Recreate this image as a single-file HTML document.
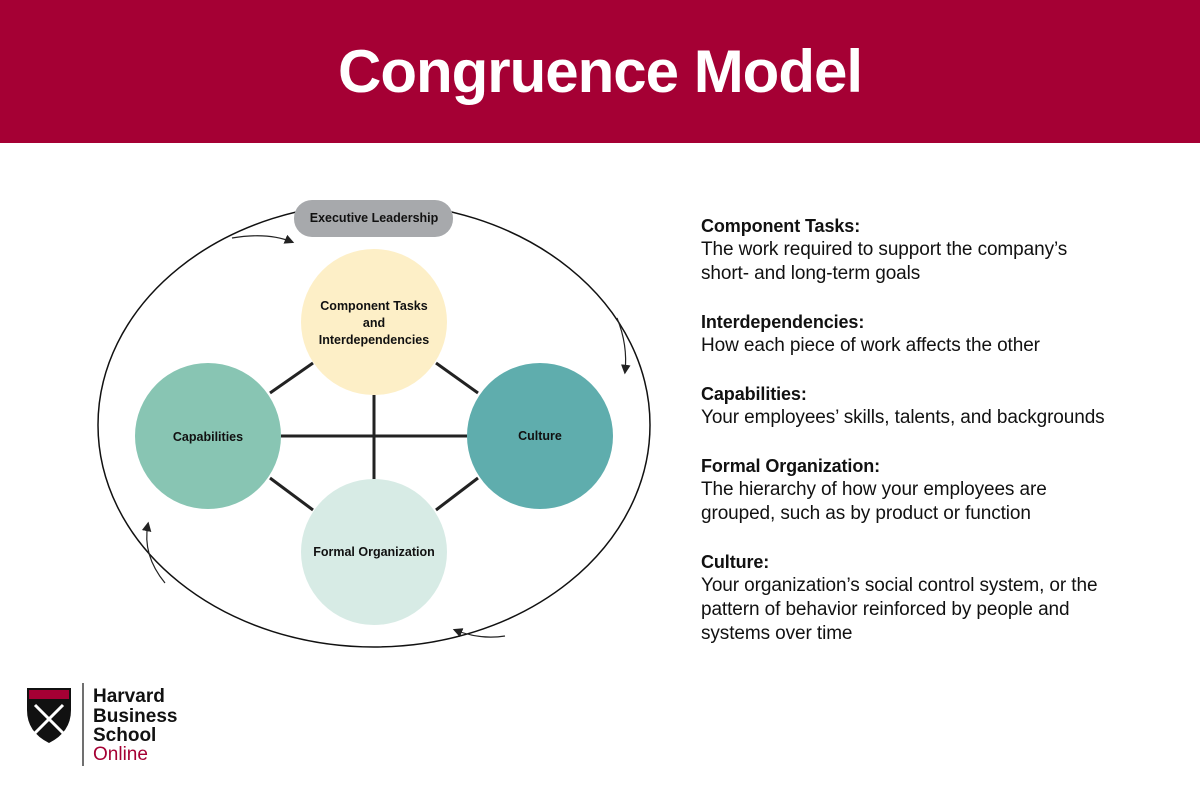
<!DOCTYPE html>
<html><head><meta charset="utf-8"><style>
body{margin:0;width:1200px;height:800px;background:#fff;overflow:hidden;font-family:"Liberation Sans",sans-serif;position:relative}
.hdr{position:absolute;left:0;top:0;width:1200px;height:143px;background:#a50034;color:#fff;font-weight:bold;font-size:60px;text-align:center;line-height:143px;letter-spacing:-1px}
.txt{position:absolute;left:701px;top:214px;font-size:19px;color:#111;line-height:24px;letter-spacing:-0.1px}
.txt b{display:block;font-size:18px}
.txt p{margin:0 0 24px 0}
</style></head><body>
<div class="hdr">Congruence Model</div>
<svg width="1200" height="800" style="position:absolute;left:0;top:0">
<defs><marker id="a" markerWidth="8" markerHeight="8" refX="6" refY="4" orient="auto"><path d="M0,0 L8,4 L0,8 z" fill="#222"/></marker></defs>
<ellipse cx="374" cy="425" rx="276" ry="222" fill="none" stroke="#111" stroke-width="1.5"/>
<g stroke="#222" stroke-width="3">
<line x1="270" y1="393" x2="313" y2="363"/><line x1="436" y1="363" x2="478" y2="393"/>
<line x1="270" y1="478" x2="313" y2="510"/><line x1="436" y1="510" x2="478" y2="478"/>
<line x1="281" y1="436" x2="467" y2="436"/><line x1="374" y1="395" x2="374" y2="480"/>
</g>
<circle cx="374" cy="322" r="73" fill="#fdefc7"/>
<circle cx="208" cy="436" r="73" fill="#88c5b3"/>
<circle cx="540" cy="436" r="73" fill="#5fadad"/>
<circle cx="374" cy="552" r="73" fill="#d7ebe5"/>
<rect x="294" y="200" width="159" height="37" rx="18" fill="#a7a9ac"/>
<g fill="none" stroke="#222" stroke-width="1.2" marker-end="url(#a)">
<path d="M232,238 Q268,232 292,242"/>
<path d="M617,318 Q628,345 625,372"/>
<path d="M165,583 Q142,555 148,524"/>
<path d="M505,636 Q480,640 455,630"/>
</g>
<g font-family="Liberation Sans,sans-serif" font-weight="bold" font-size="12.5" fill="#111" text-anchor="middle">
<text x="374" y="222">Executive Leadership</text>
<text x="374" y="310">Component Tasks</text>
<text x="374" y="327">and</text>
<text x="374" y="344">Interdependencies</text>
<text x="208" y="441">Capabilities</text>
<text x="540" y="440">Culture</text>
<text x="374" y="556">Formal Organization</text>
</g>
<path d="M27,688 h44 v22 q0,22 -22,33 q-22,-11 -22,-33z" fill="#111"/>
<rect x="29" y="690" width="40" height="9" fill="#a50034"/>
<path d="M35,705 l28,28 M63,705 l-28,28" stroke="#fff" stroke-width="3"/>
<line x1="83" y1="683" x2="83" y2="766" stroke="#111" stroke-width="1.2"/>
<g font-family="Liberation Sans,sans-serif" font-size="19" font-weight="bold" fill="#111">
<text x="93" y="702">Harvard</text><text x="93" y="722">Business</text><text x="93" y="741">School</text>
<text x="93" y="760" font-weight="normal" fill="#a50034">Online</text></g>
</svg>
<div class="txt">
<p><b>Component Tasks:</b>The work required to support the company’s<br>short- and long-term goals</p>
<p><b>Interdependencies:</b>How each piece of work affects the other</p>
<p><b>Capabilities:</b>Your employees’ skills, talents, and backgrounds</p>
<p><b>Formal Organization:</b>The hierarchy of how your employees are<br>grouped, such as by product or function</p>
<p><b>Culture:</b>Your organization’s social control system, or the<br>pattern of behavior reinforced by people and<br>systems over time</p>
</div>
</body></html>
